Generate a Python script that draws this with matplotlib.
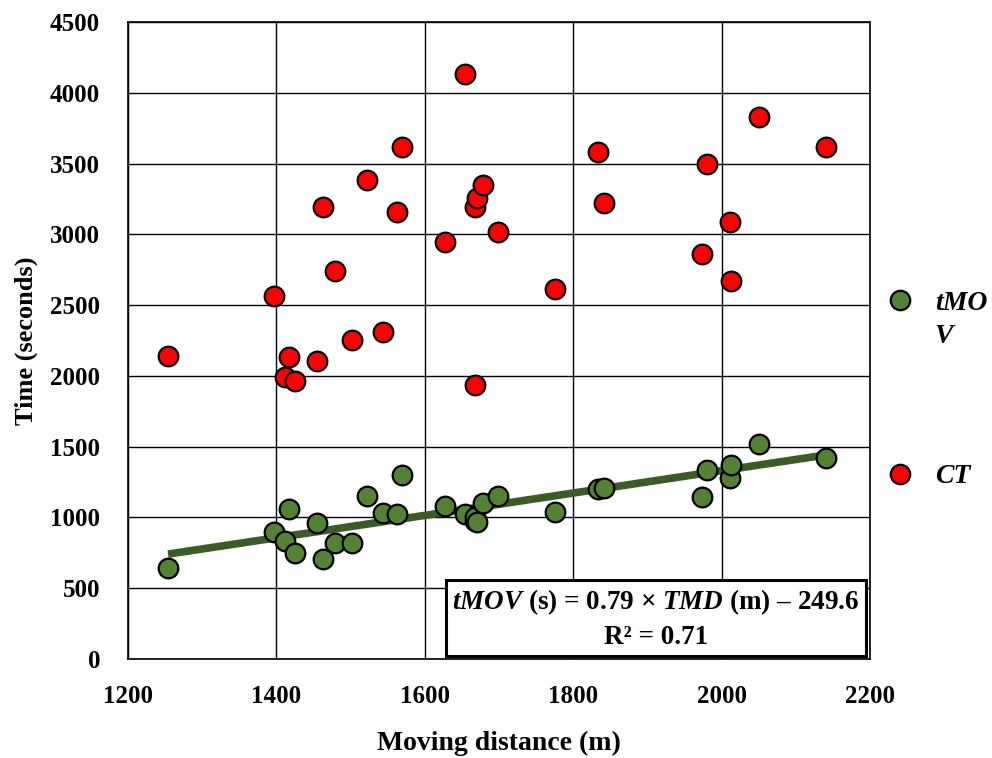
import matplotlib
matplotlib.use("Agg")
import matplotlib.pyplot as plt
from matplotlib.lines import Line2D
import numpy as np

# ---- data ----
distance = [1254, 1397, 1411, 1417, 1425, 1455, 1463, 1479, 1502, 1522,
            1543, 1562, 1569, 1627, 1654, 1667, 1668, 1670, 1679, 1698,
            1775, 1833, 1841, 1974, 1980, 2011, 2012, 2051, 2141]
tmov = [643, 897, 833, 1059, 748, 960, 706, 819, 819, 1151,
        1031, 1024, 1300, 1080, 1024, 975, 1000, 965, 1100, 1151,
        1040, 1200, 1208, 1144, 1335, 1278, 1370, 1518, 1420]
ct = [2140, 2563, 1992, 2133, 1963, 2105, 3192, 2740, 2253, 3383,
      2309, 3157, 3616, 2945, 4131, 3192, 1935, 3256, 3347, 3015,
      2613, 3580, 3220, 2860, 3500, 3086, 2670, 3830, 3616]
slope, intercept = 0.79, -249.6
x_ticks = [1200, 1400, 1600, 1800, 2000, 2200]
y_ticks = [0, 500, 1000, 1500, 2000, 2500, 3000, 3500, 4000, 4500]

plt.rcParams['font.family'] = ['Liberation Serif', 'DejaVu Serif']
plt.rcParams['mathtext.fontset'] = 'custom'
plt.rcParams['mathtext.it'] = 'Liberation Serif:italic:bold'
plt.rcParams['mathtext.rm'] = 'Liberation Serif:bold'
plt.rcParams['mathtext.bf'] = 'Liberation Serif:bold'

fig = plt.figure(figsize=(9.92, 7.58), dpi=100)
ax = fig.add_axes([128/992, 1-659/758, (870-128)/992, (659-22)/758])

green = '#548235'
red = '#FF0000'
line_col = '#3B5C26'

xs = np.array(distance)
fit_x = np.array([xs.min(), xs.max()])
ax.plot(fit_x, slope*fit_x + intercept, color=line_col, lw=5.5, zorder=3,
        solid_capstyle='butt')
ax.scatter(distance, tmov, s=200, c=green, edgecolors='black', linewidths=1.6, zorder=4)
ax.scatter(distance, ct, s=200, c=red, edgecolors='black', linewidths=1.6, zorder=4)

ax.set_xlim(1200, 2200)
ax.set_ylim(0, 4500)
ax.set_xticks(x_ticks)
ax.set_yticks(y_ticks)
ax.grid(True, color='black', lw=1.0, zorder=0)
ax.set_axisbelow(True)
for s in ax.spines.values():
    s.set_color('black')
    s.set_linewidth(1.2)
ax.tick_params(length=0, labelsize=18)
ax.tick_params(axis='y', pad=20)
ax.tick_params(axis='x', pad=19)
for lbl in ax.get_xticklabels() + ax.get_yticklabels():
    lbl.set_fontweight('bold')

ax.set_xlabel('Moving distance (m)', fontsize=20, fontweight='bold', labelpad=16)
ax.set_ylabel('Time (seconds)', fontsize=19, fontweight='bold', labelpad=9)

ax.text(0.7116, 0.063, '$tMOV$ (s) = 0.79 × $TMD$ (m) – 249.6\nR² = 0.71',
        transform=ax.transAxes, ha='center', va='center', fontsize=19.5,
        fontweight='bold', linespacing=1.4, zorder=6,
        bbox=dict(boxstyle='square,pad=0.22', fc='white', ec='black', lw=2.2))

handles = [Line2D([], [], ls='', marker='o', markersize=14, markerfacecolor=green,
                  markeredgecolor='black', markeredgewidth=1.6),
           Line2D([], [], ls='', marker='o', markersize=14, markerfacecolor=red,
                  markeredgecolor='black', markeredgewidth=1.6)]
leg_font = {'family': 'Liberation Serif', 'style': 'italic', 'weight': 'bold', 'size': 20}
leg = fig.legend(handles, ['tMO', 'CT'], loc='upper left',
                 bbox_to_anchor=(875/992, 1-282/758), frameon=False,
                 prop=leg_font, labelspacing=5.33, handletextpad=0.65, handlelength=1.2,
                 borderaxespad=0, borderpad=0.3)
fig.canvas.draw()
bb = leg.get_texts()[0].get_window_extent()
fig.text(bb.x0 / 992, (bb.y0 - 33) / 758, 'V', fontsize=20, fontstyle='italic',
         fontweight='bold', ha='left', va='bottom')

fig.savefig('out.png', dpi=100)
